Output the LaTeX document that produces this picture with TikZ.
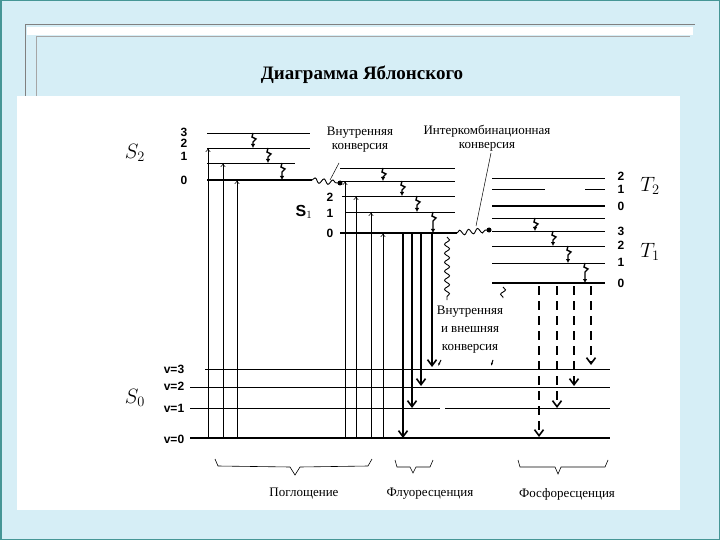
\documentclass[tikz,border=0pt]{standalone}
\usepackage{fontspec}
\setmainfont{Liberation Serif}
\newfontfamily\lsans{Liberation Sans}
\usetikzlibrary{arrows.meta,decorations.pathmorphing,decorations.pathreplacing}
\definecolor{slidebg}{RGB}{214,238,246}
\definecolor{slideedge}{RGB}{70,150,150}
\begin{document}
\begin{tikzpicture}[x=1pt,y=-1pt,
  lvl/.style={line width=0.9pt},
  lvlthick/.style={line width=2.2pt},
  lvlthin/.style={line width=0.5pt},
  absorb/.style={line width=0.5pt,-{To[length=4pt,width=5pt]}},
  fluo/.style={line width=2pt,-{Straight Barb[length=6pt,width=9pt,line width=1.6pt]}},
  phos/.style={line width=2pt,dash pattern=on 9pt off 6pt,-{Straight Barb[length=6pt,width=9pt,line width=1.6pt]}},
  wav/.style={line width=0.9pt,decorate,decoration={snake,amplitude=2.5pt,segment length=9pt}},
  num/.style={font=\lsans\bfseries\fontsize{12}{12}\selectfont,inner sep=0pt},
  lab/.style={font=\fontsize{13}{14}\selectfont,inner sep=0pt,align=center},
  big/.style={font=\itshape\fontsize{22}{22}\selectfont,inner sep=0pt}]
\useasboundingbox (0,0) rectangle (720,540);
\fill[slidebg] (0,0) rectangle (720,540);
\draw[slideedge,line width=1.5pt] (0.75,0.75) rectangle (719.25,539.25);
\draw[gray,line width=1pt] (25,25) -- (695,25);
\draw[gray,line width=0.6pt] (25,25) -- (25,96);
\fill[white] (27,27) rectangle (693,35);
\draw[gray!70,line width=0.6pt] (36,36) -- (690,36);
\draw[gray!70,line width=0.6pt] (36,36) -- (36,96);
\fill[white] (17,96) rectangle (680,510);
\node[font=\bfseries\fontsize{19}{19}\selectfont] (title) at (362,75) {Диаграмма Яблонского};
% S2
\draw[lvl] (207,133) -- (310,133);
\draw[lvl] (207,148) -- (310,148);
\draw[lvlthin] (207,163) -- (295,163);
\draw[lvlthick] (207,180) -- (312,180);
\node[num] at (184,132) {3};\node[num] at (184,143) {2};\node[num] at (184,156) {1};\node[num] at (184,180) {0};
\node[big] (s2) at (135,153) {$S_2$};
% S1
\draw[lvl] (340,168) -- (455,168);
\draw[lvl] (342,181) -- (455,181);
\draw[lvl] (342,196) -- (455,196);
\draw[lvlthin] (345,212) -- (455,212);
\draw[lvlthick] (340,233) -- (457,233);
\node[num] at (330,197) {2};\node[num] at (330,213) {1};\node[num] at (330,233) {0};
\node[font=\lsans\bfseries\fontsize{16}{16}\selectfont] (s1) at (304,212) {S$_1$};
% T
\draw[lvl] (492,178) -- (605,178);
\draw[lvl] (492,189) -- (545,189); \draw[lvl] (585,189) -- (605,189);
\draw[lvlthick] (492,206) -- (605,206);
\draw[lvl] (492,218) -- (605,218);
\draw[lvl] (492,231) -- (605,231);
\draw[lvl] (492,246) -- (605,246);
\draw[lvl] (492,263) -- (605,263);
\draw[lvlthick] (492,283) -- (605,283);
\foreach \y/\t in {176/2,189/1,206/0,231/3,245/2,262/1,283/0} \node[num] at (621,\y) {\t};
\node[big] (t2) at (650,186) {$T_2$};
\node[big] (t1) at (650,252) {$T_1$};
% S0
\draw[lvlthin] (205,369) -- (610,369);
\draw[lvlthin] (190,387) -- (610,387);
\draw[lvlthin] (190,408) -- (440,408); \draw[lvlthin] (445,408) -- (610,408);
\draw[lvlthick] (190,438) -- (610,438);
\node[num] at (174,369) {v=3};\node[num] at (174,386) {v=2};\node[num] at (174,408) {v=1};\node[num] at (174,439) {v=0};
\node[big] (s0) at (135,398) {$S_0$};
% absorption
\foreach \x/\y in {208/148,223/163,237/180,345/181,356/196,371/212,383/233} \draw[absorb] (\x,438) -- (\x,\y);
% relaxation squiggles
\foreach \x/\a/\b in {253/133/148,268/148/163,282/163/180,383/168/181,402/181/196,417/196/212,433/212/233,535/218/231,553/231/246,568/246/263,585/263/283}
  \draw[line width=1.4pt,-{Latex[length=4pt,width=4.5pt]}] (\x,\a) -- ++(-1,4) -- ++(4,2) -- ++(-3,3) -- (\x,\b);
% fluorescence
\draw[fluo] (403,233) -- (403,438);
\draw[fluo] (412,233) -- (412,408);
\draw[fluo] (421,233) -- (421,386);
\draw[fluo] (432,233) -- (432,367);
% phosphorescence
\draw[phos] (539,286) -- (539,437);
\draw[phos] (557,286) -- (557,408);
\draw[phos] (574,286) -- (574,386);
\draw[phos] (591,286) -- (591,365);
% conversions
\draw[wav] (312,180) -- (338,183);
\fill (340,183) circle (2.5pt);
\node[lab] (ic) at (360,140) {Внутренняя\\конверсия};
\draw[line width=0.5pt] (339,163) -- (330,180);
\draw[wav] (457,233) -- (487,230);
\fill (489,230) circle (2.5pt);
\node[lab] (isc) at (487,138) {Интеркомбинационная\\конверсия};
\draw[line width=0.5pt] (491,153) -- (476,226);
\draw[wav] (447,237) -- (447,300);
\draw[wav] (503,287) -- (503,298);
\node[lab,font=\fontsize{13}{18}\selectfont] (ext) at (470,330) {Внутренняя\\и внешняя\\конверсия};
\draw[line width=1pt,-{Latex[length=3pt]}] (441,360) -- (438,366);
\draw[line width=1pt,-{Latex[length=3pt]}] (493,360) -- (491,366);
% braces
\draw[line width=0.6pt] (215,459) -- (218,466) -- (290,467) -- (295,475) -- (300,467) -- (368,466) -- (372,459);
\draw[line width=0.6pt] (395,460) -- (397,467) -- (410,467) -- (413,473) -- (416,467) -- (430,467) -- (433,460);
\draw[line width=0.6pt] (518,460) -- (520,467) -- (555,467) -- (558,474) -- (561,467) -- (605,467) -- (608,460);
\node[lab] (abs) at (304,494) {Поглощение};
\node[lab] (fl) at (430,494) {Флуоресценция};
\node[lab] (ph) at (567,494) {Фосфоресценция};
\end{tikzpicture}
\end{document}
